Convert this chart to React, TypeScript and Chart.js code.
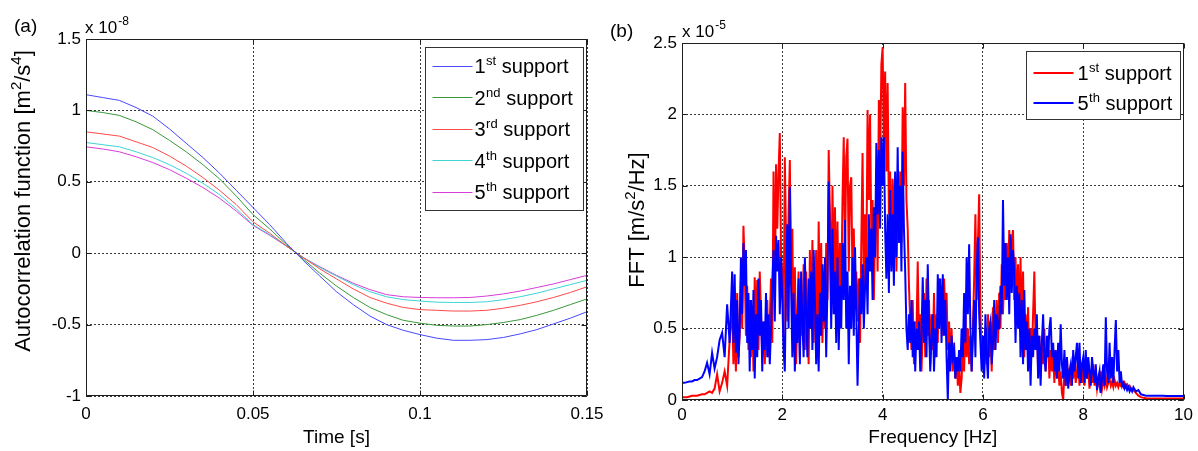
import React, { useEffect, useRef } from "react";
import { Chart, registerables } from "chart.js";

Chart.register(...registerables);

// ---------- Panel (a): autocorrelation ----------
const timeS = [
  0, 0.005, 0.01, 0.015, 0.02, 0.025, 0.03, 0.035, 0.04, 0.045,
  0.05, 0.055, 0.06, 0.065, 0.07, 0.075, 0.08, 0.085, 0.09, 0.095,
  0.1, 0.105, 0.11, 0.115, 0.12, 0.125, 0.13, 0.135, 0.14, 0.145, 0.15,
];
const ac1st = [
  1.11, 1.09, 1.07, 1.02, 0.96, 0.87, 0.77, 0.67, 0.56, 0.44,
  0.32, 0.2, 0.07, -0.05, -0.16, -0.27, -0.36, -0.44, -0.5, -0.54,
  -0.57, -0.595, -0.61, -0.61, -0.605, -0.59, -0.565, -0.535, -0.495, -0.455, -0.41,
];
const ac2nd = [
  1.0, 0.985, 0.965, 0.92, 0.865, 0.79, 0.71, 0.62, 0.52, 0.4,
  0.27, 0.17, 0.06, -0.04, -0.14, -0.23, -0.31, -0.38, -0.43, -0.47,
  -0.49, -0.505, -0.51, -0.51, -0.5, -0.485, -0.465, -0.435, -0.4, -0.36, -0.32,
];
const ac3rd = [
  0.85, 0.835, 0.82, 0.78, 0.74, 0.68, 0.61, 0.53, 0.44, 0.34,
  0.22, 0.14, 0.05, -0.03, -0.11, -0.18, -0.25, -0.31, -0.35, -0.38,
  -0.395, -0.4, -0.405, -0.405, -0.4, -0.385, -0.365, -0.34, -0.31, -0.275, -0.235,
];
const ac4th = [
  0.775, 0.76, 0.745, 0.71, 0.67, 0.62, 0.56, 0.49, 0.41, 0.31,
  0.2, 0.13, 0.05, -0.03, -0.1, -0.16, -0.22, -0.27, -0.305, -0.325,
  -0.335, -0.343, -0.345, -0.345, -0.34, -0.325, -0.305, -0.28, -0.25, -0.22, -0.19,
];
const ac5th = [
  0.745, 0.73, 0.71, 0.675, 0.635, 0.585, 0.525, 0.46, 0.385, 0.295,
  0.195, 0.125, 0.05, -0.03, -0.095, -0.155, -0.21, -0.255, -0.29, -0.305,
  -0.31, -0.312, -0.312, -0.31, -0.3, -0.285, -0.265, -0.24, -0.215, -0.185, -0.155,
];
const acNames = ["1st support", "2nd support", "3rd support", "4th support", "5th support"];
const acColors = ["#4848ff", "#3a973a", "#ff4a4a", "#3cd4d4", "#d83cd8"];
const acXTicks = [0, 0.05, 0.1, 0.15];
const acXTickLabels = ["0", "0.05", "0.1", "0.15"];
const acYTicks = [-1, -0.5, 0, 0.5, 1, 1.5];
const acYTickLabels = ["-1", "-0.5", "0", "0.5", "1", "1.5"];
const acXTitle = "Time [s]";
const acYTitle = "Autocorrelation function [m^2/s^4]";

// ---------- Panel (b): FFT ----------
const freqHz = [
  0, 0.05, 0.1, 0.15, 0.2, 0.25, 0.3, 0.35, 0.4, 0.45, 0.5, 0.55, 0.6, 0.65, 0.7, 0.75, 0.8, 0.85, 0.9, 0.95,
  1, 1.025, 1.05, 1.075, 1.1, 1.125, 1.15, 1.175, 1.2, 1.225, 1.25, 1.275, 1.3, 1.325, 1.35, 1.375, 1.4, 1.425, 1.45, 1.475,
  1.5, 1.525, 1.55, 1.575, 1.6, 1.625, 1.65, 1.675, 1.7, 1.725, 1.75, 1.775, 1.8, 1.825, 1.85, 1.875, 1.9, 1.925, 1.95, 1.975,
  2, 2.025, 2.05, 2.075, 2.1, 2.125, 2.15, 2.175, 2.2, 2.225, 2.25, 2.275, 2.3, 2.325, 2.35, 2.375, 2.4, 2.425, 2.45, 2.475,
  2.5, 2.525, 2.55, 2.575, 2.6, 2.625, 2.65, 2.675, 2.7, 2.725, 2.75, 2.775, 2.8, 2.825, 2.85, 2.875, 2.9, 2.925, 2.95, 2.975,
  3, 3.025, 3.05, 3.075, 3.1, 3.125, 3.15, 3.175, 3.2, 3.225, 3.25, 3.275, 3.3, 3.325, 3.35, 3.375, 3.4, 3.425, 3.45, 3.475,
  3.5, 3.525, 3.55, 3.575, 3.6, 3.625, 3.65, 3.675, 3.7, 3.725, 3.75, 3.775, 3.8, 3.825, 3.85, 3.875, 3.9, 3.925, 3.95, 3.975,
  4, 4.025, 4.05, 4.075, 4.1, 4.125, 4.15, 4.175, 4.2, 4.225, 4.25, 4.275, 4.3, 4.325, 4.35, 4.375, 4.4, 4.425, 4.45, 4.475,
  4.5, 4.525, 4.55, 4.575, 4.6, 4.625, 4.65, 4.675, 4.7, 4.725, 4.75, 4.775, 4.8, 4.825, 4.85, 4.875, 4.9, 4.925, 4.95, 4.975,
  5, 5.025, 5.05, 5.075, 5.1, 5.125, 5.15, 5.175, 5.2, 5.225, 5.25, 5.275, 5.3, 5.325, 5.35, 5.375, 5.4, 5.425, 5.45, 5.475,
  5.5, 5.525, 5.55, 5.575, 5.6, 5.625, 5.65, 5.675, 5.7, 5.725, 5.75, 5.775, 5.8, 5.825, 5.85, 5.875, 5.9, 5.925, 5.95, 5.975,
  6, 6.025, 6.05, 6.075, 6.1, 6.125, 6.15, 6.175, 6.2, 6.225, 6.25, 6.275, 6.3, 6.325, 6.35, 6.375, 6.4, 6.425, 6.45, 6.475,
  6.5, 6.525, 6.55, 6.575, 6.6, 6.625, 6.65, 6.675, 6.7, 6.725, 6.75, 6.775, 6.8, 6.825, 6.85, 6.875, 6.9, 6.925, 6.95, 6.975,
  7, 7.025, 7.05, 7.075, 7.1, 7.125, 7.15, 7.175, 7.2, 7.225, 7.25, 7.275, 7.3, 7.325, 7.35, 7.375, 7.4, 7.425, 7.45, 7.475,
  7.5, 7.525, 7.55, 7.575, 7.6, 7.625, 7.65, 7.675, 7.7, 7.725, 7.75, 7.775, 7.8, 7.825, 7.85, 7.875, 7.9, 7.925, 7.95, 7.975,
  8, 8.025, 8.05, 8.075, 8.1, 8.125, 8.15, 8.175, 8.2, 8.225, 8.25, 8.275, 8.3, 8.325, 8.35, 8.375, 8.4, 8.425, 8.45, 8.475,
  8.5, 8.525, 8.55, 8.575, 8.6, 8.625, 8.65, 8.675, 8.7, 8.725, 8.75, 8.775, 8.8, 8.825, 8.85, 8.875, 8.9, 8.925, 8.95, 8.975,
  9, 9.05, 9.1, 9.15, 9.2, 9.25, 9.3, 9.35, 9.4, 9.45, 9.5, 9.55, 9.6, 9.65, 9.7, 9.75, 9.8, 9.85, 9.9, 9.95, 10,
];
const fft1st = [
  0.02, 0.02, 0.02, 0.025, 0.03, 0.03, 0.03, 0.035, 0.04, 0.04, 0.05, 0.06, 0.05, 0.08, 0.18, 0.06, 0.12, 0.2, 0.1, 0.42,
  0.65, 0.25, 0.5, 0.2, 0.75, 0.3, 0.45, 0.85, 0.5, 1.22, 0.95, 0.45, 0.8, 0.35, 0.7, 0.3, 0.62, 0.2, 0.86, 0.5,
  0.84, 0.35, 0.9, 0.6, 0.3, 0.55, 0.25, 0.45, 0.7, 0.3, 0.55, 0.85, 0.4, 1.6, 0.7, 1.65, 1.2, 1.6, 1.87, 1.0,
  0.9, 0.45, 1.7, 1.1, 0.55, 1.3, 1.68, 0.8, 1.2, 0.35, 0.93, 0.25, 0.6, 0.9, 0.3, 0.75, 0.45, 0.95, 0.35, 0.9,
  0.6, 0.25, 1.05, 0.5, 1.12, 0.4, 0.8, 1.05, 0.3, 1.25, 0.6, 1.1, 0.4, 0.85, 0.5, 1.1, 0.7, 1.75, 1.3, 0.6,
  1.5, 0.85, 1.35, 0.7, 1.25, 0.55, 1.1, 0.75, 1.4, 1.84, 1.0, 1.7, 1.83, 0.9, 1.5, 1.56, 0.8, 1.2, 0.65, 0.9,
  0.55, 0.85, 0.4, 1.1, 1.73, 0.75, 1.3, 0.9, 2.03, 1.4, 2.0, 1.1, 1.4, 0.7, 1.2, 1.5, 0.9, 2.1, 1.6, 2.35,
  2.47, 1.8, 2.3, 1.6, 2.22, 1.3, 1.6, 1.0, 1.55, 1.2, 1.58, 0.9, 1.4, 1.2, 1.6, 1.1, 2.05, 1.5, 2.22, 1.4,
  1.2, 0.8, 0.55, 0.35, 0.7, 0.25, 0.55, 0.45, 0.97, 0.4, 0.6, 0.2, 0.5, 0.75, 0.3, 0.85, 0.45, 0.7, 0.25, 0.6,
  0.35, 0.75, 0.3, 0.6, 0.4, 0.85, 0.55, 0.8, 0.45, 0.85, 0.6, 0.75, 0.35, 0.55, 0.25, 0.5, 0.2, 0.4, 0.15, 0.3,
  0.1, 0.25, 0.05, 0.15, 0.35, 0.2, 0.6, 0.3, 0.5, 0.25, 0.45, 0.2, 0.5, 0.85, 1.3, 0.7, 1.1, 1.44, 0.6, 0.3,
  0.45, 0.2, 0.5, 0.25, 0.6, 0.3, 0.55, 0.2, 0.65, 0.35, 0.5, 0.7, 0.4, 0.75, 0.5, 0.95, 0.6, 0.9, 0.7, 1.1,
  0.8, 1.19, 0.9, 1.12, 1.19, 0.7, 1.0, 0.6, 0.95, 0.5, 1.0, 0.45, 0.9, 0.3, 0.6, 0.35, 0.65, 0.25, 0.5, 0.3,
  0.6, 0.9, 0.4, 0.55, 0.2, 0.45, 0.15, 0.4, 0.25, 0.5, 0.2, 0.35, 0.45, 0.15, 0.35, 0.2, 0.3, 0.12, 0.35, 0.15,
  0.25, 0.1, 0.2, 0.05, 0.0, 0.2, 0.1, 0.3, 0.12, 0.22, 0.1, 0.25, 0.15, 0.28, 0.12, 0.2, 0.3, 0.1, 0.22, 0.12,
  0.25, 0.1, 0.28, 0.15, 0.22, 0.08, 0.2, 0.12, 0.25, 0.1, 0.18, 0.08, 0.15, 0.1, 0.2, 0.08, 0.14, 0.1, 0.16, 0.09,
  0.12, 0.15, 0.1, 0.13, 0.09, 0.14, 0.1, 0.12, 0.09, 0.12, 0.1, 0.11, 0.09, 0.12, 0.1, 0.11, 0.09, 0.1, 0.08, 0.07,
  0.07, 0.05, 0.03, 0.02, 0.015, 0.012, 0.01, 0.01, 0.01, 0.01, 0.01, 0.01, 0.01, 0.01, 0.01, 0.01, 0.01, 0.01, 0.01, 0.01, 0.01,
];
const fft5th = [
  0.12, 0.12, 0.125, 0.13, 0.13, 0.14, 0.14, 0.15, 0.16, 0.2, 0.26, 0.18, 0.33, 0.22, 0.3, 0.42, 0.47, 0.3, 0.67, 0.4,
  0.9, 0.4, 0.88, 0.33, 0.7, 0.25, 0.5, 1.0, 0.6, 1.1, 0.8, 1.05, 0.4, 0.75, 0.2, 0.7, 0.35, 0.77, 0.15, 0.6,
  0.3, 0.85, 0.45, 0.7, 0.2, 0.55, 0.35, 0.75, 0.3, 0.6, 0.25, 0.5, 0.8, 1.05, 0.55, 1.15, 0.9, 1.12, 0.6, 1.0,
  0.7, 0.35, 0.2, 0.9, 1.23, 0.5, 1.49, 0.8, 0.3, 0.75, 0.2, 0.6, 0.4, 0.85, 0.25, 0.9, 0.55, 0.3, 1.0, 0.6,
  0.3, 0.85, 0.5, 0.9, 0.35, 1.05, 0.7, 0.25, 0.6, 0.2, 0.75, 0.45, 0.95, 0.55, 1.0, 0.3, 0.8, 1.53, 1.1, 0.5,
  1.2, 0.6, 0.9, 0.4, 1.0, 0.35, 0.8, 0.5, 1.1, 0.7, 1.26, 0.5, 0.9, 0.25, 0.8, 0.5, 1.0, 0.45, 1.07, 0.6,
  0.1, 0.5, 0.85, 0.6, 0.95, 0.5, 0.8, 1.0, 0.6, 1.3, 0.9, 1.2, 0.7, 1.35, 1.0, 1.8, 1.3, 1.75, 1.2, 1.84,
  1.5, 1.84, 1.2, 0.85, 1.3, 0.75, 1.47, 0.9, 1.3, 0.8, 1.6, 1.0, 1.77, 1.1, 1.5, 0.9, 1.74, 1.2, 0.9, 0.5,
  0.35, 0.6, 0.4, 0.7, 0.3, 0.55, 0.2, 0.5, 0.35, 0.55, 0.2, 0.45, 0.86, 0.4, 0.7, 0.3, 0.95, 0.5, 0.2, 0.45,
  0.6, 0.2, 0.5, 0.3, 0.88, 0.5, 0.85, 0.4, 0.88, 0.45, 0.7, 0.3, 0.0, 0.4, 0.2, 0.45, 0.3, 0.35, 0.15, 0.3,
  0.2, 0.35, 0.2, 0.5, 0.3, 0.75, 0.4, 1.0, 0.6, 1.09, 0.5, 0.2, 0.45, 0.7, 0.3, 0.9, 1.14, 0.6, 0.4, 0.2,
  0.45, 0.15, 0.6, 0.3, 0.15, 0.5, 0.55, 0.25, 0.4, 0.7, 0.35, 0.6, 0.5, 0.5, 0.8, 0.6, 1.4, 0.8, 1.1, 0.7,
  1.0, 0.6, 1.16, 0.75, 1.05, 0.9, 0.4, 0.8, 0.5, 0.75, 0.3, 0.7, 0.25, 0.77, 0.35, 0.55, 0.2, 0.5, 0.1, 0.45,
  0.3, 0.5, 0.35, 0.6, 0.15, 0.45, 0.1, 0.4, 0.6, 0.3, 0.2, 0.45, 0.3, 0.5, 0.58, 0.3, 0.4, 0.2, 0.35, 0.15,
  0.4, 0.2, 0.53, 0.25, 0.15, 0.35, 0.1, 0.3, 0.08, 0.2, 0.25, 0.1, 0.35, 0.2, 0.3, 0.4, 0.15, 0.4, 0.12, 0.25,
  0.3, 0.12, 0.35, 0.15, 0.3, 0.2, 0.1, 0.3, 0.2, 0.12, 0.25, 0.07, 0.15, 0.2, 0.05, 0.15, 0.25, 0.1, 0.58, 0.2,
  0.12, 0.4, 0.15, 0.3, 0.12, 0.35, 0.56, 0.2, 0.35, 0.12, 0.2, 0.1, 0.12, 0.08, 0.1, 0.07, 0.09, 0.06, 0.08, 0.06,
  0.09, 0.06, 0.07, 0.04, 0.035, 0.03, 0.03, 0.03, 0.03, 0.03, 0.03, 0.03, 0.03, 0.028, 0.028, 0.028, 0.028, 0.028, 0.028, 0.028, 0.028,
];
const fftNames = ["1st support", "5th support"];
const fftColors = ["#ff0000", "#0000ff"];
const fftXTicks = [0, 2, 4, 6, 8, 10];
const fftXTickLabels = ["0", "2", "4", "6", "8", "10"];
const fftYTicks = [0, 0.5, 1, 1.5, 2, 2.5];
const fftYTickLabels = ["0", "0.5", "1", "1.5", "2", "2.5"];
const fftXTitle = "Frequency [Hz]";
const fftYTitle = "FFT [m/s^2/Hz]";

const FONT = '"Liberation Sans", Arial, Helvetica, sans-serif';
const TICK_FS = 17;
const TITLE_FS = 19;
const YTITLE_FS = 22;
const LEG_FS = 20;

type FrameCfg = {
  panel: string;
  panelX: number;
  panelY: number;
  expMain: string;
  expSup: string;
  expX: number;
  expY: number;
  yTitle: string;
  yTitleX: number;
  yTitleY: number;
  legend: { right: number; top: number; w: number; h: number; first: number; rowH: number; lw: number; textX: number };
};

// split "abc^2def" into segments, '^' marks a one-character superscript
function splitSup(text: string) {
  const segs: { t: string; sup: boolean }[] = [];
  let cur = "";
  for (let i = 0; i < text.length; i++) {
    if (text[i] === "^" && i + 1 < text.length) {
      if (cur) segs.push({ t: cur, sup: false });
      cur = "";
      segs.push({ t: text[i + 1], sup: true });
      i++;
    } else cur += text[i];
  }
  if (cur) segs.push({ t: cur, sup: false });
  return segs;
}

function drawVerticalTitle(ctx: CanvasRenderingContext2D, text: string, cx: number, cy: number, fs: number) {
  const segs = splitSup(text);
  const supFs = Math.round(fs * 0.7);
  let total = 0;
  segs.forEach((s) => {
    ctx.font = `${s.sup ? supFs : fs}px ${FONT}`;
    total += ctx.measureText(s.t).width;
  });
  ctx.save();
  ctx.translate(cx, cy);
  ctx.rotate(-Math.PI / 2);
  ctx.fillStyle = "#000";
  ctx.textBaseline = "alphabetic";
  ctx.textAlign = "left";
  let x = -total / 2;
  const base = fs * 0.36;
  segs.forEach((s) => {
    ctx.font = `${s.sup ? supFs : fs}px ${FONT}`;
    ctx.fillText(s.t, x, s.sup ? base - fs * 0.42 : base);
    x += ctx.measureText(s.t).width;
  });
  ctx.restore();
}

function drawOrdinalText(ctx: CanvasRenderingContext2D, text: string, x: number, yMid: number) {
  const m = text.match(/^(\d+)(st|nd|rd|th)(.*)$/);
  const base = yMid + 7.5;
  ctx.fillStyle = "#000";
  ctx.textBaseline = "alphabetic";
  ctx.textAlign = "left";
  ctx.font = `${LEG_FS}px ${FONT}`;
  if (!m) {
    ctx.fillText(text, x, base);
    return;
  }
  ctx.fillText(m[1], x, base);
  let cx = x + ctx.measureText(m[1]).width;
  ctx.font = `13px ${FONT}`;
  ctx.fillText(m[2], cx + 0.5, base - 8);
  cx += ctx.measureText(m[2]).width + 0.5;
  ctx.font = `${LEG_FS}px ${FONT}`;
  ctx.fillText(m[3], cx, base);
}

function makeFramePlugin(cfg: FrameCfg) {
  return {
    id: "frame",
    afterDraw(chart: any) {
      const { ctx, chartArea: a, scales } = chart;
      ctx.save();
      ctx.strokeStyle = "#1e1e1e";
      ctx.lineWidth = 1;
      const L = Math.round(a.left) + 0.5;
      const T = Math.round(a.top) + 0.5;
      const R = Math.round(a.right) - 0.5;
      const B = Math.round(a.bottom) - 0.5;
      ctx.beginPath();
      ctx.rect(L, T, R - L, B - T);
      const xs = scales.x;
      const ys = scales.y;
      xs.ticks.forEach((t: any) => {
        const p = Math.round(xs.getPixelForValue(t.value)) + 0.5;
        ctx.moveTo(p, B);
        ctx.lineTo(p, B - 5);
        ctx.moveTo(p, T);
        ctx.lineTo(p, T + 5);
      });
      ys.ticks.forEach((t: any) => {
        const p = Math.round(ys.getPixelForValue(t.value)) + 0.5;
        ctx.moveTo(L, p);
        ctx.lineTo(L + 5, p);
        ctx.moveTo(R, p);
        ctx.lineTo(R - 5, p);
      });
      ctx.stroke();

      const lg = cfg.legend;
      const bx = Math.round(a.right - lg.right - lg.w) + 0.5;
      const by = Math.round(a.top + lg.top) + 0.5;
      ctx.fillStyle = "#fff";
      ctx.fillRect(bx, by, lg.w, lg.h);
      ctx.strokeStyle = "#333";
      ctx.lineWidth = 1;
      ctx.strokeRect(bx, by, lg.w, lg.h);
      const ds = chart.data.datasets;
      ds.forEach((d: any, i: number) => {
        const yMid = by + lg.first + i * lg.rowH;
        const yl = Math.round(yMid) + (lg.lw % 2 ? 0.5 : 0);
        ctx.strokeStyle = d.borderColor;
        ctx.lineWidth = lg.lw;
        ctx.beginPath();
        ctx.moveTo(bx + 7, yl);
        ctx.lineTo(bx + 47, yl);
        ctx.stroke();
        drawOrdinalText(ctx, d.label, bx + lg.textX, yMid);
      });

      drawVerticalTitle(ctx, cfg.yTitle, cfg.yTitleX, cfg.yTitleY, YTITLE_FS);

      ctx.fillStyle = "#000";
      ctx.textBaseline = "alphabetic";
      ctx.textAlign = "left";
      ctx.font = `19px ${FONT}`;
      ctx.fillText(cfg.panel, cfg.panelX, cfg.panelY);
      ctx.font = `${TICK_FS}px ${FONT}`;
      ctx.fillText(cfg.expMain, cfg.expX, cfg.expY);
      const w = ctx.measureText(cfg.expMain).width;
      ctx.font = `12px ${FONT}`;
      ctx.fillText(cfg.expSup, cfg.expX + w + 1, cfg.expY - 8);
      ctx.restore();
    },
  };
}

function axisCommon(ticks: number[], labels: string[], fixed: { w?: number; h?: number }, pad: number) {
  return {
    type: "linear" as const,
    min: ticks[0],
    max: ticks[ticks.length - 1],
    afterBuildTicks: (s: any) => {
      s.ticks = ticks.map((v) => ({ value: v }));
    },
    afterFit: (s: any) => {
      if (fixed.w !== undefined) s.width = fixed.w;
      if (fixed.h !== undefined) s.height = fixed.h;
    },
    grid: { color: "rgba(0,0,0,0.78)", lineWidth: 1, drawTicks: false },
    border: { display: false, dash: [2, 2] },
    ticks: {
      autoSkip: false,
      maxRotation: 0,
      padding: pad,
      color: "#000",
      font: { family: FONT, size: TICK_FS },
      callback: (_v: any, i: number) => labels[i],
    },
  };
}

function xTitle(text: string) {
  return {
    display: true,
    text,
    color: "#000",
    font: { family: FONT, size: TITLE_FS },
    padding: { top: 0, bottom: 2 },
  };
}

function buildLeft(canvas: HTMLCanvasElement) {
  const series = [ac1st, ac2nd, ac3rd, ac4th, ac5th];
  return new Chart(canvas, {
    type: "line",
    data: {
      datasets: series.map((s, i) => ({
        label: acNames[i],
        data: timeS.map((t, j) => ({ x: t, y: s[j] })),
        borderColor: acColors[i],
        backgroundColor: acColors[i],
        borderWidth: 1,
        pointRadius: 0,
        tension: 0,
        fill: false,
      })),
    },
    options: {
      animation: false,
      responsive: false,
      events: [],
      layout: { padding: { left: 0, right: 611, top: 39, bottom: 0 } },
      plugins: { legend: { display: false }, tooltip: { enabled: false } },
      scales: {
        x: { ...axisCommon(acXTicks, acXTickLabels, { h: 55 }, 8), title: xTitle(acXTitle) },
        y: axisCommon(acYTicks, acYTickLabels, { w: 86 }, 5),
      },
    } as any,
    plugins: [
      makeFramePlugin({
        panel: "(a)",
        panelX: 14,
        panelY: 32,
        expMain: "x 10",
        expSup: "-8",
        expX: 85,
        expY: 33,
        yTitle: acYTitle,
        yTitleX: 22,
        yTitleY: 201,
        legend: { right: 4, top: 8, w: 158, h: 163, first: 18, rowH: 31.5, lw: 1, textX: 49 },
      }),
    ],
  } as any);
}

function buildRight(canvas: HTMLCanvasElement) {
  const series = [fft1st, fft5th];
  return new Chart(canvas, {
    type: "line",
    data: {
      datasets: series.map((s, i) => ({
        label: fftNames[i],
        data: freqHz.map((f, j) => ({ x: f, y: s[j] })),
        borderColor: fftColors[i],
        backgroundColor: fftColors[i],
        borderWidth: 2,
        pointRadius: 0,
        tension: 0,
        fill: false,
        order: i === 0 ? 1 : 0,
      })),
    },
    options: {
      animation: false,
      responsive: false,
      events: [],
      layout: { padding: { left: 600, right: 14, top: 43, bottom: 0 } },
      plugins: { legend: { display: false }, tooltip: { enabled: false } },
      scales: {
        x: { ...axisCommon(fftXTicks, fftXTickLabels, { h: 51 }, 5), title: xTitle(fftXTitle) },
        y: axisCommon(fftYTicks, fftYTickLabels, { w: 82 }, 5),
      },
    } as any,
    plugins: [
      makeFramePlugin({
        panel: "(b)",
        panelX: 610,
        panelY: 37,
        expMain: "x 10",
        expSup: "-5",
        expX: 682,
        expY: 37,
        yTitle: fftYTitle,
        yTitleX: 636,
        yTitleY: 220,
        legend: { right: 4, top: 8, w: 154, h: 68, first: 21, rowH: 30, lw: 2, textX: 51 },
      }),
    ],
  } as any);
}

export default function App() {
  const leftRef = useRef<HTMLCanvasElement>(null);
  const rightRef = useRef<HTMLCanvasElement>(null);
  useEffect(() => {
    const l = buildLeft(leftRef.current!);
    const r = buildRight(rightRef.current!);
    return () => {
      l.destroy();
      r.destroy();
    };
  }, []);
  const cs: React.CSSProperties = { position: "absolute", left: 0, top: 0, width: 1198, height: 451 };
  return (
    <div style={{ position: "fixed", left: 0, top: 0, width: 1198, height: 451, background: "#fff" }}>
      <canvas ref={leftRef} width={1198} height={451} style={cs} />
      <canvas ref={rightRef} width={1198} height={451} style={cs} />
    </div>
  );
}
